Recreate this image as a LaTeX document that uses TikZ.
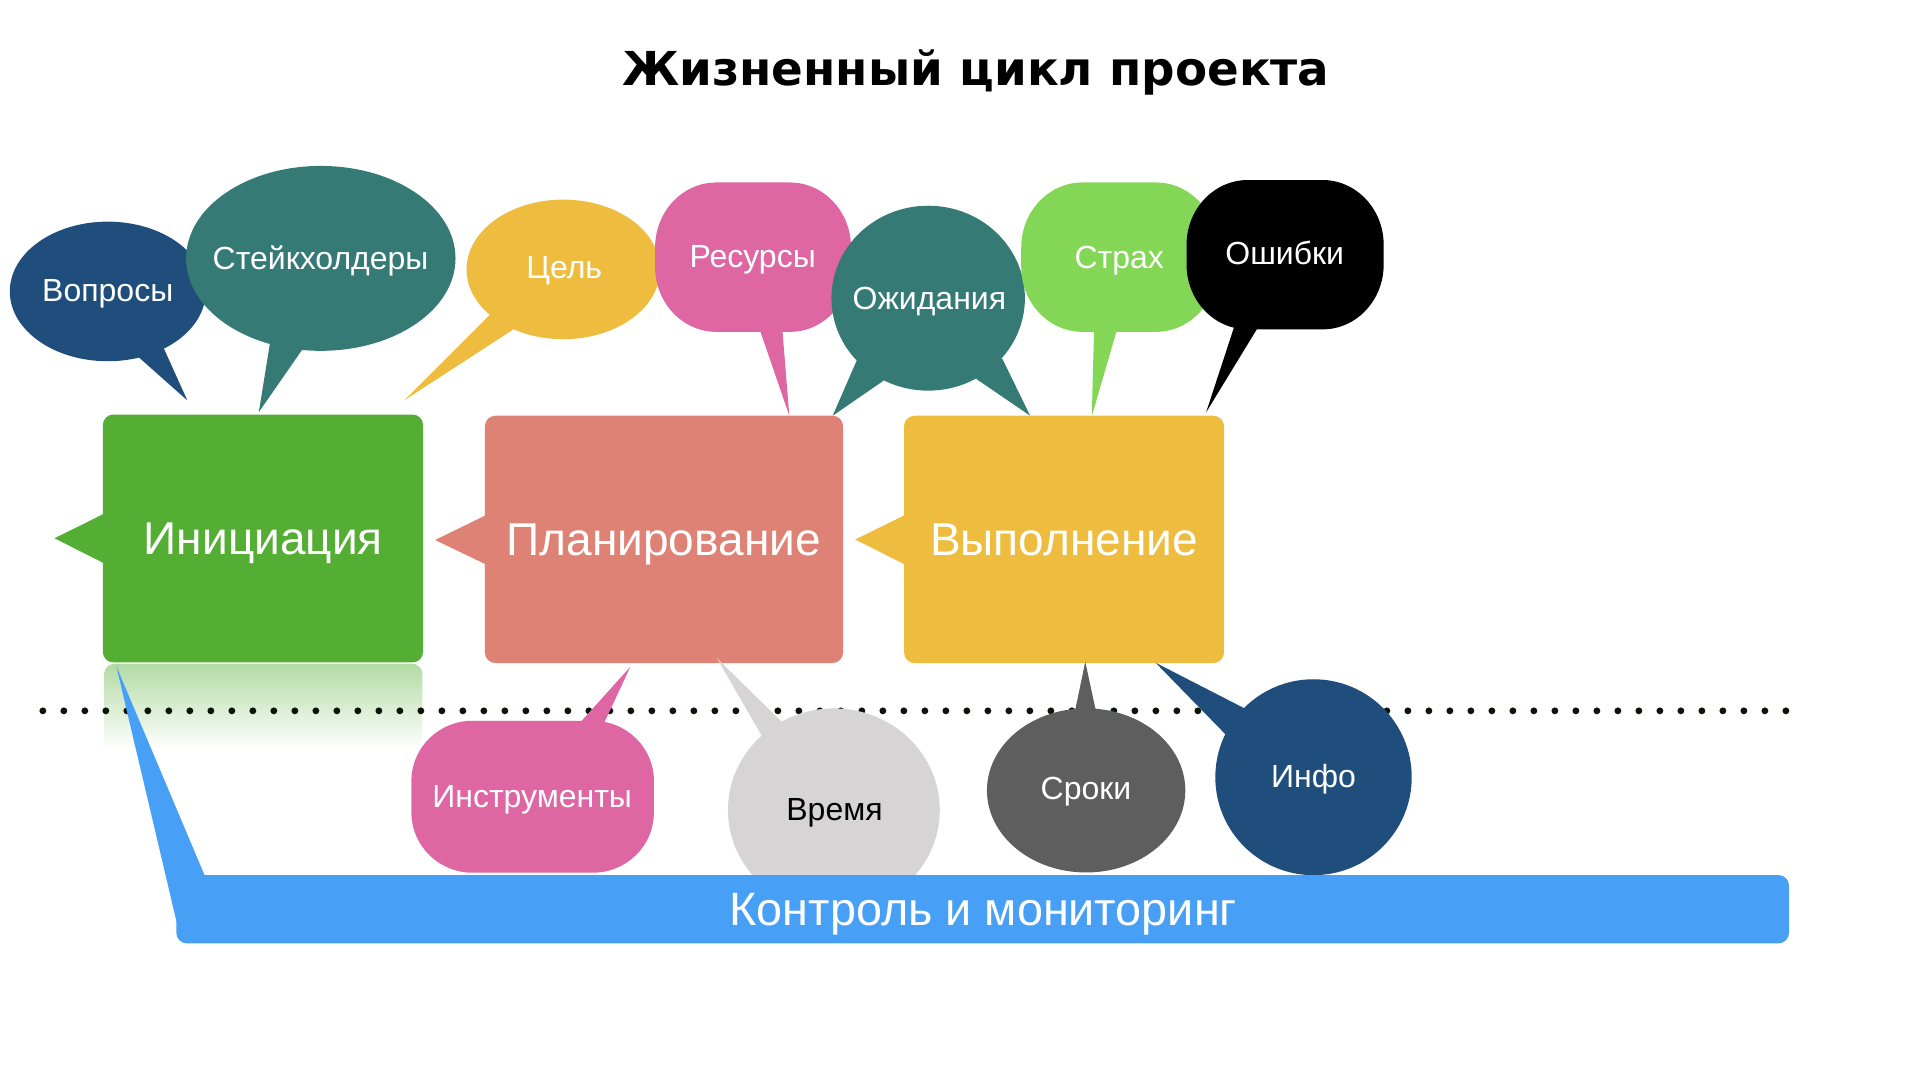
\documentclass[tikz,border=0pt]{standalone}
\usepackage{fontspec}
\setmainfont{Liberation Sans}
\newfontfamily\titlefont{DejaVu Sans}

\definecolor{initgreen}{HTML}{55AE34}
\definecolor{plansalmon}{HTML}{DE8276}
\definecolor{execyellow}{HTML}{EEBD40}
\definecolor{ctrlblue}{HTML}{48A0F6}
\definecolor{bubnavy}{HTML}{1F4D7C}
\definecolor{bubteal}{HTML}{367A75}
\definecolor{bubpink}{HTML}{DE67A3}
\definecolor{bublime}{HTML}{83D656}
\definecolor{bubdark}{HTML}{5E5E5E}
\definecolor{bublight}{HTML}{D6D4D5}
\definecolor{dotblack}{HTML}{0B140B}

% rounded blob: colour, left, top, right, bottom, x radius, y radius
\newcommand{\roundblob}[7]{%
  \fill[#1] (#2+#6,#3) -- (#4-#6,#3)
    arc[start angle=-90, end angle=0, x radius=#6, y radius=#7] -- (#4,#5-#7)
    arc[start angle=0, end angle=90, x radius=#6, y radius=#7] -- (#2+#6,#5)
    arc[start angle=90, end angle=180, x radius=#6, y radius=#7] -- (#2,#3+#7)
    arc[start angle=180, end angle=270, x radius=#6, y radius=#7] -- cycle;}

\tikzset{
  boxlabel/.style={anchor=base, text=white, font=\fontsize{13.1}{15}\selectfont},
  bublabel/.style={anchor=base, text=white, font=\fontsize{9.1}{11}\selectfont},
  stagebox/.style={rounded corners=3pt},
}

\begin{document}
\begin{tikzpicture}[x=.012245cm, y=-.012245cm]
  \useasboundingbox (0,0) rectangle (1568,882);

  \node[anchor=base, font=\titlefont\bfseries\fontsize{13.3}{16}\selectfont] (ttl) at (797,70) {Жизненный цикл проекта};

  % reflection and dotted line
  \shade[top color=initgreen!45, bottom color=white, rounded corners=3pt]
    (85,612) -- (85,542) -- (345,542) -- (345,612) -- cycle;
  \foreach \i in {0,...,83}
    \fill[dotblack] (35+17.15*\i,580.5) circle [radius=2.8];

  % stages
  \fill[initgreen, stagebox] (84,338.5) rectangle (345.5,541);
  \fill[initgreen] (85,419.5) -- (44.5,439.6) -- (85,460) -- cycle;
  \fill[plansalmon, stagebox] (396,339.5) rectangle (688.5,541.5);
  \fill[plansalmon] (397,420.6) -- (355.3,441) -- (397,461) -- cycle;
  \fill[execyellow, stagebox] (738.3,339.5) rectangle (999.6,541.5);
  \fill[execyellow] (739,420.6) -- (698.4,440.6) -- (739,461) -- cycle;

  % bubbles above
  \fill[bubnavy] (113.6,292) -- (153,327) -- (134,285) -- (88,238) -- cycle;
  \fill[bubnavy] (88,238) ellipse [x radius=80, y radius=57];
  \fill[bubteal] (220.5,280) -- (211.4,336.5) -- (246.5,286) -- (262,211) -- cycle;
  \fill[bubteal] (262,211) ellipse [x radius=110, y radius=75.5];
  \fill[execyellow] (400,257) -- (330,327) -- (418.5,269.5) -- (460,220) -- cycle;
  \fill[execyellow] (460,220) ellipse [x radius=79, y radius=57];
  \fill[bubpink] (619,265) -- (644.6,339.5) -- (638.6,265) -- cycle;
  \roundblob{bubpink}{535}{149}{695}{271}{50}{53}
  \fill[bubteal] (699.6,294.5) -- (680,339.5) -- (721.4,311) -- (758,243.5) -- cycle;
  \fill[bubteal] (797.8,309.8) -- (841.3,339.5) -- (818.8,293.5) -- (758,243.5) -- cycle;
  \fill[bubteal] (758,243.5) ellipse [x radius=79, y radius=75.5];
  \fill[bublime] (893.6,265) -- (891.6,340) -- (913.4,265) -- cycle;
  \roundblob{bublime}{834}{149}{994}{271}{50}{53}
  \fill[black] (1009.5,262) -- (985,336.7) -- (1030.6,262) -- cycle;
  \roundblob{black}{969}{147}{1130}{269}{50}{53}

  % bubbles below
  \fill[bubpink] (469.3,595) -- (514.8,544.5) -- (491.2,595) -- cycle;
  \roundblob{bubpink}{336}{588.6}{534}{712.7}{50}{49}
  \fill[bublight] (622.5,601.6) -- (585.5,537.5) -- (638.3,589.4) -- (681,661.5) -- cycle;
  \fill[bublight] (681,661.5) ellipse [x radius=86.5, y radius=83];
  \fill[bubdark] (877,585) -- (886.3,540.4) -- (895.9,585) -- cycle;
  \fill[bubdark] (887,645.5) ellipse [x radius=81, y radius=67];
  \fill[bubnavy] (1000.8,599.7) -- (943.7,541.2) -- (1015.4,578) -- (1072.7,634.7) -- cycle;
  \fill[bubnavy] (1072.7,634.7) ellipse [x radius=80.2, y radius=80];

  % control bar
  \fill[ctrlblue, rounded corners=3pt] (144,714.6) rectangle (1461,770.4);
  \fill[ctrlblue] (144,752) -- (95,544) -- (167,714.6) -- (200,740) -- cycle;

  % labels
  \node[boxlabel] (init) at (215,453.2) {Инициация};
  \node[boxlabel] (plan) at (542,453.5) {Планирование};
  \node[boxlabel] (exec) at (869,453.5) {Выполнение};
  \node[boxlabel, font=\fontsize{13.3}{15}\selectfont] (ctrl) at (803,755.4) {Контроль и мониторинг};
  \node[bublabel] (vopr) at (88,246.4) {Вопросы};
  \node[bublabel] (stake) at (261.8,219.7) {Стейкхолдеры};
  \node[bublabel] (goal) at (460.8,227.3) {Цель};
  \node[bublabel] (res) at (614.7,218.3) {Ресурсы};
  \node[bublabel] (expect) at (759,252.6) {Ожидания};
  \node[bublabel] (fear) at (914,219.1) {Страх};
  \node[bublabel] (errs) at (1049.2,216.4) {Ошибки};
  \node[bublabel] (tools) at (434.6,659.6) {Инструменты};
  \node[bublabel, text=black] (time) at (681.5,669.7) {Время};
  \node[bublabel] (terms) at (886.9,653.3) {Сроки};
  \node[bublabel] (info) at (1072.7,643.3) {Инфо};
\end{tikzpicture}
\end{document}
